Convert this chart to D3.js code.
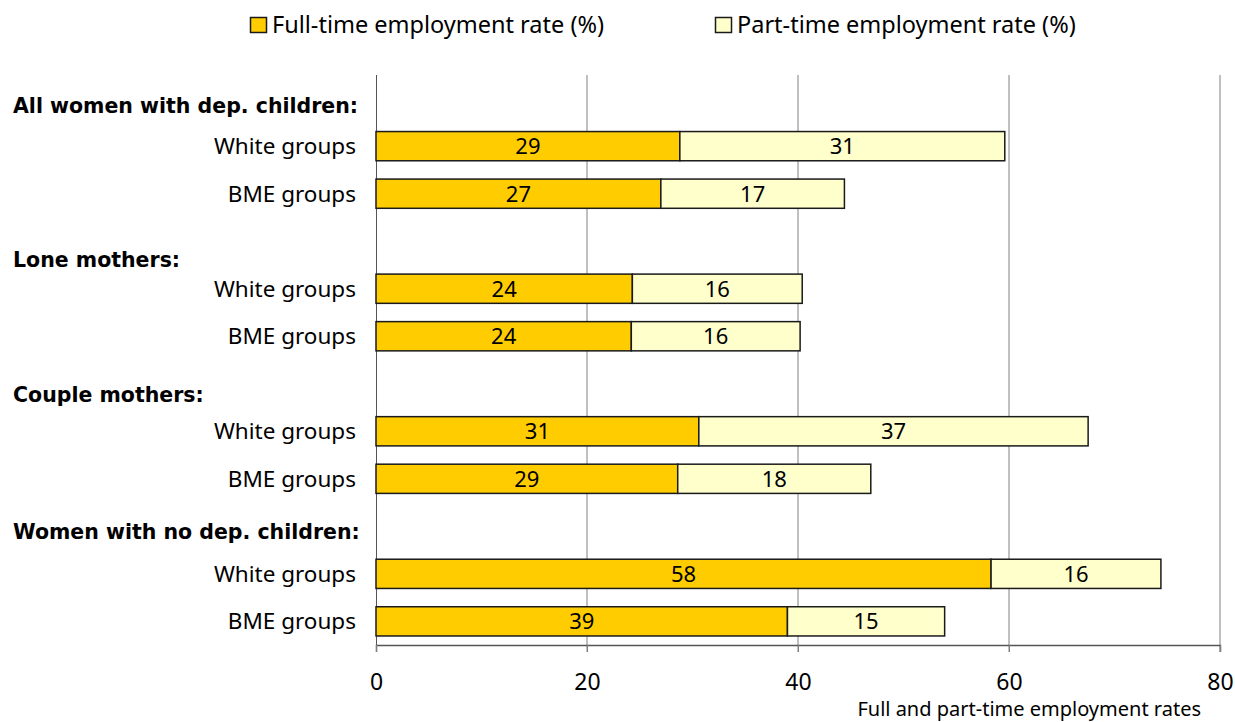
<!DOCTYPE html>
<html>
<head>
<meta charset="utf-8">
<script src="https://cdn.jsdelivr.net/npm/d3@7"></script>
<style>
  html, body { margin: 0; padding: 0; background: #fff; }
  svg { display: block; font-family: "Noto Sans", "Open Sans", sans-serif; }
</style>
</head>
<body>
<svg id="chart" width="1235" height="722"></svg>
<script>
// Employment rates of mothers by ethnic group
const groups = ["All women with dep. children:", "Lone mothers:", "Couple mothers:", "Women with no dep. children:"];
const subgroups = ["White groups", "BME groups"];
const fullTime = [28.8, 27.0, 24.3, 24.2, 30.6, 28.6, 58.3, 39.0];
const partTime = [30.8, 17.4, 16.1, 16.0, 36.9, 18.3, 16.1, 14.9];
const xTicks = [0, 20, 40, 60, 80];
const seriesNames = ["Full-time employment rate (%)", "Part-time employment rate (%)"];
const xTitle = "Full and part-time employment rates";

const colors = ["#FFCC00", "#FFFFCC"];

const svg = d3.select("#chart");
const margin = { left: 376, right: 15, top: 75, bottom: 77 };
const W = 1235, H = 722;

// One slot per group heading plus one per subgroup row
const slots = [];
const rows = [];
groups.forEach((g, gi) => {
  slots.push("h" + gi);
  subgroups.forEach((s, si) => {
    const key = "r" + gi + "_" + si;
    slots.push(key);
    const i = gi * subgroups.length + si;
    rows.push({ key, label: s, full: fullTime[i], part: partTime[i] });
  });
});

const x = d3.scaleLinear().domain([0, 80]).range([margin.left, W - margin.right]);
const y = d3.scaleBand().domain(slots).range([margin.top, H - margin.bottom]).paddingInner(0.385).paddingOuter(0.19);

// vertical gridlines (extending below the axis as tick marks)
svg.append("g")
  .selectAll("line")
  .data(xTicks.slice(1))
  .join("line")
  .attr("x1", d => x(d)).attr("x2", d => x(d))
  .attr("y1", margin.top).attr("y2", H - margin.bottom + 7)
  .attr("stroke", "#808080").attr("stroke-width", 1);

// left frame line
svg.append("line")
  .attr("x1", x(0) + 0.5).attr("x2", x(0) + 0.5)
  .attr("y1", margin.top).attr("y2", H - margin.bottom + 7)
  .attr("stroke", "#555").attr("stroke-width", 1);

// bottom axis
const xAxis = d3.axisBottom(x).tickValues(xTicks).tickSize(7).tickPadding(22).tickFormat(d3.format("d"));
const axisG = svg.append("g")
  .attr("transform", `translate(0,${H - margin.bottom})`)
  .call(xAxis);
axisG.select(".domain").attr("stroke", "#555").attr("stroke-width", 1.5);
axisG.selectAll(".tick line").attr("stroke", "#808080");
axisG.selectAll(".tick text")
  .attr("fill", "#000")
  .style("font-size", "23px")
  .style("font-family", "'Noto Sans', sans-serif");

// bars
const barG = svg.append("g");
const fmt = d3.format(".0f");
rows.forEach(r => {
  const yy = y(r.key), h = y.bandwidth();
  barG.append("rect")
    .attr("x", x(0)).attr("y", yy)
    .attr("width", x(r.full) - x(0)).attr("height", h)
    .attr("fill", colors[0]).attr("stroke", "#1a1a1a").attr("stroke-width", 1.5);
  barG.append("rect")
    .attr("x", x(r.full)).attr("y", yy)
    .attr("width", x(r.full + r.part) - x(r.full)).attr("height", h)
    .attr("fill", colors[1]).attr("stroke", "#1a1a1a").attr("stroke-width", 1.5);
  barG.append("text")
    .attr("x", (x(0) + x(r.full)) / 2).attr("y", yy + h / 2)
    .attr("text-anchor", "middle").attr("dy", "0.36em")
    .style("font-size", "22px")
    .text(fmt(r.full));
  barG.append("text")
    .attr("x", (x(r.full) + x(r.full + r.part)) / 2).attr("y", yy + h / 2)
    .attr("text-anchor", "middle").attr("dy", "0.36em")
    .style("font-size", "22px")
    .text(fmt(r.part));
  // row label
  svg.append("text")
    .attr("x", margin.left - 20).attr("y", yy + h / 2)
    .attr("text-anchor", "end").attr("dy", "0.36em")
    .style("font-size", "22.5px")
    .text(r.label);
});

// group headings, nudged down within their slot
const headingNudge = [7, 18, 11, 5];
groups.forEach((g, gi) => {
  const key = "h" + gi;
  svg.append("text")
    .attr("x", 13).attr("y", y(key) + y.bandwidth() / 2 + headingNudge[gi])
    .attr("dy", "0.36em")
    .style("font-family", "'DejaVu Sans', sans-serif")
    .style("font-size", "20.5px").style("font-weight", "bold")
    .text(g);
});

// legend
const legendX = [250, 715];
seriesNames.forEach((name, i) => {
  svg.append("rect")
    .attr("x", legendX[i] + 0.5).attr("y", 17.5)
    .attr("width", 16).attr("height", 15)
    .attr("fill", colors[i]).attr("stroke", "#1a1a1a").attr("stroke-width", 1.5);
  svg.append("text")
    .attr("x", legendX[i] + 22).attr("y", 25)
    .attr("dy", "0.36em")
    .style("font-size", "23.5px")
    .text(name);
});

// axis title
svg.append("text")
  .attr("x", 1201).attr("y", 709)
  .attr("text-anchor", "end")
  .attr("dy", "0.36em")
  .style("font-size", "20px")
  .text(xTitle);
</script>
</body>
</html>
